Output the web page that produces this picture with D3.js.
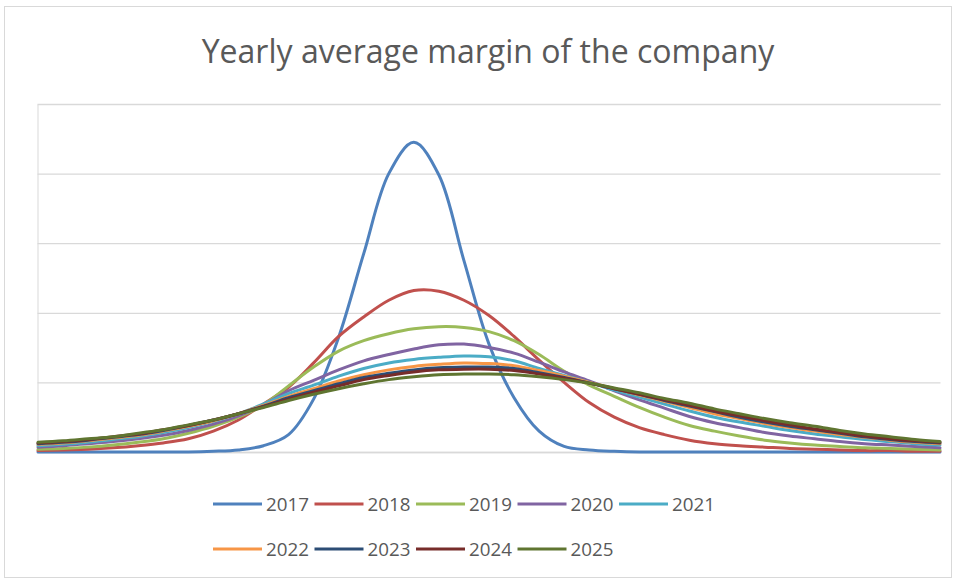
<!DOCTYPE html>
<html>
<head>
<meta charset="utf-8">
<script src="https://cdn.jsdelivr.net/npm/d3@7"></script>
<style>
  html, body { margin: 0; padding: 0; background: #fff; }
  svg { display: block; }
</style>
</head>
<body>
<svg id="chart" width="956" height="581"></svg>
<script>
// Margin buckets along the horizontal axis (axis labels are hidden)
const marginSteps = [-18,-17,-16,-15,-14,-13,-12,-11,-10,-9,-8,-7,-6,-5,-4,-3,-2,-1,0,
                     1,2,3,4,5,6,7,8,9,10,11,12,13,14,15,16,17,18];

const years = ["2017","2018","2019","2020","2021","2022","2023","2024","2025"];

// Frequency of each margin bucket, one array per year
const y2017 = [0,0,0,0,0,0,0,0.01,0.03,0.09,0.25,0.76,1.65,2.85,4.00,4.45,3.98,2.75,1.55,
               0.78,0.30,0.08,0.03,0.01,0,0,0,0,0,0,0,0,0,0,0,0,0];
const y2018 = [0.02,0.03,0.04,0.06,0.09,0.13,0.19,0.30,0.46,0.69,0.93,1.28,1.66,1.94,2.18,2.32,2.31,2.18,1.96,
               1.66,1.32,1.00,0.71,0.50,0.35,0.25,0.17,0.12,0.09,0.07,0.05,0.04,0.03,0.02,0.02,0.01,0.01];
const y2019 = [0.04,0.05,0.07,0.10,0.14,0.19,0.27,0.37,0.50,0.68,0.95,1.22,1.45,1.60,1.70,1.77,1.80,1.79,1.73,
               1.60,1.40,1.16,0.96,0.80,0.64,0.50,0.38,0.30,0.23,0.17,0.13,0.10,0.08,0.06,0.05,0.04,0.03];
const y2020 = [0.07,0.09,0.12,0.15,0.19,0.24,0.31,0.40,0.52,0.68,0.88,1.03,1.18,1.31,1.40,1.48,1.54,1.55,1.50,
               1.42,1.29,1.15,1.02,0.88,0.75,0.63,0.51,0.42,0.35,0.28,0.23,0.19,0.15,0.12,0.10,0.08,0.06];
const y2021 = [0.09,0.11,0.14,0.18,0.22,0.28,0.35,0.44,0.55,0.69,0.84,0.96,1.09,1.20,1.28,1.33,1.36,1.38,1.37,
               1.31,1.20,1.10,1.00,0.89,0.79,0.69,0.59,0.50,0.43,0.37,0.31,0.26,0.22,0.18,0.15,0.12,0.10];
const y2022 = [0.11,0.13,0.16,0.20,0.24,0.30,0.37,0.45,0.55,0.67,0.80,0.91,1.02,1.11,1.18,1.23,1.26,1.28,1.27,
               1.24,1.17,1.09,1.00,0.91,0.82,0.73,0.64,0.55,0.48,0.41,0.35,0.30,0.25,0.21,0.17,0.14,0.12];
const y2023 = [0.12,0.14,0.17,0.21,0.25,0.31,0.38,0.46,0.55,0.66,0.78,0.88,0.98,1.07,1.13,1.18,1.21,1.22,1.22,
               1.20,1.14,1.07,0.99,0.91,0.83,0.74,0.66,0.58,0.50,0.43,0.37,0.32,0.27,0.22,0.18,0.15,0.13];
const y2024 = [0.13,0.15,0.18,0.22,0.26,0.32,0.38,0.46,0.55,0.65,0.76,0.86,0.95,1.04,1.10,1.15,1.18,1.19,1.19,
               1.17,1.12,1.06,0.99,0.91,0.83,0.75,0.67,0.59,0.52,0.45,0.39,0.33,0.28,0.23,0.19,0.16,0.14];
const y2025 = [0.14,0.16,0.19,0.22,0.27,0.32,0.39,0.46,0.55,0.64,0.74,0.83,0.91,0.98,1.04,1.08,1.11,1.12,1.12,
               1.11,1.08,1.04,0.99,0.92,0.85,0.77,0.70,0.62,0.55,0.48,0.42,0.37,0.31,0.26,0.22,0.18,0.15];

const yearValues = [y2017, y2018, y2019, y2020, y2021, y2022, y2023, y2024, y2025];
const yearColors = ["#4F81BD","#C0504D","#9BBB59","#8064A2","#4BACC6",
                    "#F79646","#2C4D75","#772C2A","#5F7530"];

const titleText = "Yearly average margin of the company";
const yMax = 5;

const svg = d3.select("#chart");
const plot = { left: 38, right: 940, top: 104, bottom: 452 };
const fontFamily = "'Open Sans', 'Liberation Sans', sans-serif";
const textColor = "#595959";

// Chart area frame
svg.append("rect")
  .attr("x", 4.5).attr("y", 6.5)
  .attr("width", 947).attr("height", 571)
  .attr("fill", "#fff")
  .attr("stroke", "#D9D9D9")
  .attr("stroke-width", 1);

// Title, sized to fill its line
const title = svg.append("text")
  .attr("x", 488).attr("y", 63)
  .attr("text-anchor", "middle")
  .attr("fill", textColor)
  .attr("font-family", fontFamily)
  .attr("font-size", 30)
  .text(titleText);
{
  const w = title.node().getComputedTextLength();
  title.attr("font-size", 30 * 573 / w);
}

const x = d3.scalePoint()
  .domain(marginSteps)
  .range([plot.left, plot.right])
  .padding(0);

const y = d3.scaleLinear()
  .domain([0, yMax])
  .range([plot.bottom, plot.top]);

// Horizontal gridlines (labels hidden)
const yAxis = d3.axisLeft(y)
  .ticks(5)
  .tickSize(-(plot.right - plot.left + 1))
  .tickFormat("");
const gy = svg.append("g")
  .attr("transform", `translate(${plot.left - 0.5},0)`)
  .call(yAxis);
gy.select(".domain").attr("stroke", "#D9D9D9");
gy.selectAll(".tick line")
  .attr("stroke", "#D9D9D9")
  .attr("stroke-width", 1.3);

// Category axis along the baseline (labels hidden)
const xAxis = d3.axisBottom(x).tickSize(0).tickFormat("");
const gx = svg.append("g")
  .attr("transform", `translate(0,${plot.bottom})`)
  .call(xAxis);
gx.select(".domain").attr("stroke", "#D9D9D9").attr("stroke-width", 1.3);

// One smoothed line per year
const line = d3.line()
  .x((d, i) => x(marginSteps[i]))
  .y(d => y(d))
  .curve(d3.curveCatmullRom.alpha(0.5));

svg.append("g")
  .selectAll("path")
  .data(yearValues)
  .join("path")
  .attr("d", d => line(d))
  .attr("fill", "none")
  .attr("stroke", (d, i) => yearColors[i])
  .attr("stroke-width", 3)
  .attr("stroke-linejoin", "round")
  .attr("stroke-linecap", "round");

// Legend: five entries on the first row, four on the second
const legend = svg.append("g");
const legendX0 = 213, legendStep = 101.5, legendRows = [504, 549], perRow = 5;
const entries = legend.selectAll("g")
  .data(years)
  .join("g")
  .attr("transform", (d, i) =>
    `translate(${legendX0 + (i % perRow) * legendStep},${legendRows[Math.floor(i / perRow)]})`);
entries.append("line")
  .attr("x1", 0).attr("x2", 49)
  .attr("y1", 0).attr("y2", 0)
  .attr("stroke", (d, i) => yearColors[i])
  .attr("stroke-width", 3);
const labels = entries.append("text")
  .attr("x", 53)
  .attr("y", 0)
  .attr("dy", "0.36em")
  .attr("fill", textColor)
  .attr("font-family", fontFamily)
  .attr("font-size", 19)
  .text(d => d);
{
  const w = labels.node().getComputedTextLength();
  labels.attr("font-size", 19 * 43 / w);
}
</script>
</body>
</html>
